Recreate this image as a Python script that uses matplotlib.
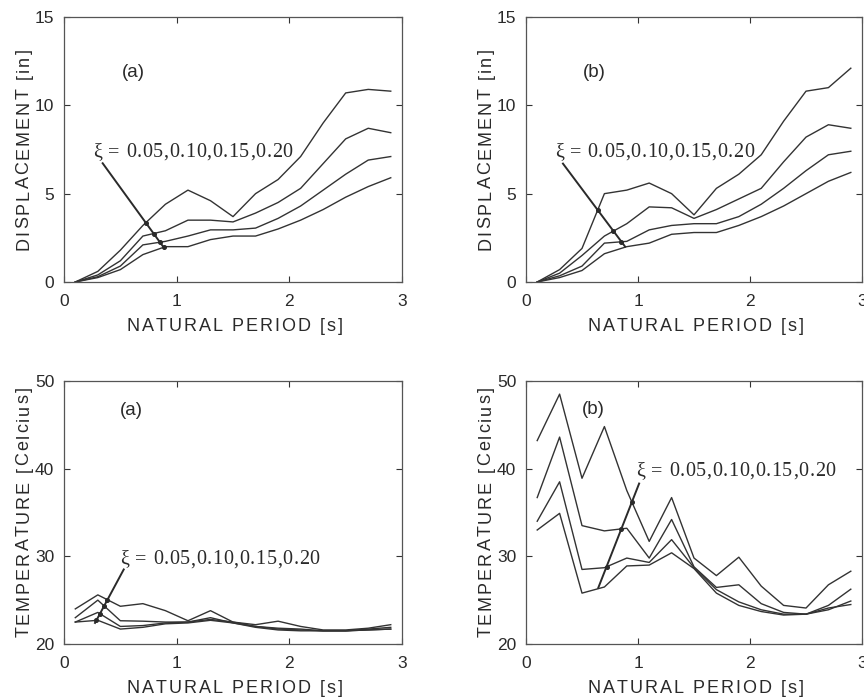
import matplotlib
matplotlib.use("Agg")
import matplotlib.pyplot as plt
from matplotlib.font_manager import FontProperties, findfont, get_font
from matplotlib.transforms import IdentityTransform
import numpy as np

# Natural period samples [s]
period = [0.1, 0.3, 0.5, 0.7, 0.9, 1.1, 1.3, 1.5, 1.7, 1.9, 2.1, 2.3, 2.5, 2.7, 2.9]
damping_text = "ξ = 0.05,0.10,0.15,0.20"

# Peak displacement [in], case (a), damping 0.05 / 0.10 / 0.15 / 0.20
disp_a_005 = [0.0, 0.6, 1.8, 3.2, 4.4, 5.2, 4.6, 3.7, 5.0, 5.8, 7.1, 9.0, 10.7, 10.9, 10.8]
disp_a_010 = [0.0, 0.4, 1.2, 2.6, 2.9, 3.5, 3.5, 3.4, 3.9, 4.5, 5.3, 6.7, 8.1, 8.7, 8.45]
disp_a_015 = [0.0, 0.3, 0.9, 2.1, 2.3, 2.6, 2.95, 2.95, 3.05, 3.6, 4.3, 5.2, 6.1, 6.9, 7.1]
disp_a_020 = [0.0, 0.25, 0.7, 1.55, 2.0, 2.0, 2.4, 2.6, 2.6, 3.0, 3.5, 4.1, 4.8, 5.4, 5.9]

# Peak displacement [in], case (b)
disp_b_005 = [0.0, 0.7, 1.9, 5.0, 5.2, 5.6, 5.0, 3.8, 5.3, 6.1, 7.2, 9.1, 10.8, 11.0, 12.1]
disp_b_010 = [0.0, 0.5, 1.5, 2.6, 3.3, 4.25, 4.2, 3.6, 4.1, 4.7, 5.3, 6.8, 8.2, 8.9, 8.7]
disp_b_015 = [0.0, 0.35, 0.9, 2.2, 2.3, 2.95, 3.2, 3.3, 3.3, 3.7, 4.4, 5.3, 6.3, 7.2, 7.4]
disp_b_020 = [0.0, 0.25, 0.65, 1.6, 2.0, 2.2, 2.7, 2.8, 2.8, 3.2, 3.7, 4.3, 5.0, 5.7, 6.2]

# Temperature [Celcius], case (a)
temp_a_005 = [24.0, 25.6, 24.3, 24.6, 23.8, 22.65, 23.8, 22.5, 22.2, 22.6, 22.0, 21.6, 21.6, 21.8, 22.2]
temp_a_010 = [23.0, 25.0, 22.65, 22.6, 22.5, 22.5, 23.0, 22.4, 22.0, 21.8, 21.7, 21.5, 21.5, 21.7, 21.9]
temp_a_015 = [22.5, 23.6, 22.0, 22.1, 22.4, 22.5, 22.8, 22.5, 22.0, 21.7, 21.6, 21.5, 21.5, 21.6, 21.7]
temp_a_020 = [22.5, 22.7, 21.7, 21.9, 22.3, 22.4, 22.7, 22.4, 21.9, 21.6, 21.5, 21.5, 21.5, 21.6, 21.7]

# Temperature [Celcius], case (b)
temp_b_005 = [43.2, 48.5, 38.9, 44.8, 37.5, 31.7, 36.7, 29.8, 27.8, 29.9, 26.6, 24.4, 24.1, 26.75, 28.3]
temp_b_010 = [36.7, 43.6, 33.5, 32.9, 33.2, 29.8, 34.2, 28.8, 26.45, 26.75, 24.6, 23.6, 23.4, 24.4, 26.25]
temp_b_015 = [34.0, 38.5, 28.5, 28.7, 29.8, 29.3, 31.9, 28.7, 26.2, 24.8, 23.9, 23.4, 23.4, 23.9, 24.9]
temp_b_020 = [33.0, 34.9, 25.8, 26.5, 28.9, 29.0, 30.4, 28.6, 25.8, 24.4, 23.7, 23.3, 23.4, 24.1, 24.5]

DPI = 100
INK = "#333333"
TXT = "#2a2a2a"
SANS = "Liberation Sans"
SERIF = "Liberation Serif"
plt.rcParams["font.family"] = SANS


def advances(s, family, size):
    """Horizontal advance of each character, in pixels."""
    font = get_font(findfont(FontProperties(family=family, size=size)))
    font.set_size(size, DPI)
    return [font.load_char(ord(c)).linearHoriAdvance / 65536 for c in s]


def tracked_text(fig, s, x, y, family, size, track, vertical=False, center=True):
    """Draw letter-spaced text; (x, y) is the baseline anchor in pixels."""
    adv = advances(s, family, size)
    total = sum(adv) + track * (len(s) - 1)
    pos = -total / 2 if center else 0.0
    for c, a in zip(s, adv):
        if c != " ":
            px, py = (x, y + pos) if vertical else (x + pos, y)
            fig.text(px, py, c, transform=IdentityTransform(), family=family,
                     fontsize=size, color=TXT, ha="left", va="baseline",
                     rotation=90 if vertical else 0, rotation_mode="anchor")
        pos += a + track


def segment_hits(x0, y0, x1, y1, xs, ys):
    """Crossings of a straight segment with a polyline."""
    hits = []
    for i in range(len(xs) - 1):
        ax_, ay_, bx_, by_ = xs[i], ys[i], xs[i + 1], ys[i + 1]
        d = (x1 - x0) * (by_ - ay_) - (y1 - y0) * (bx_ - ax_)
        if abs(d) < 1e-12:
            continue
        t = ((ax_ - x0) * (by_ - ay_) - (ay_ - y0) * (bx_ - ax_)) / d
        u = ((ax_ - x0) * (y1 - y0) - (ay_ - y0) * (x1 - x0)) / d
        if 0 <= t <= 1.0001 and 0 <= u <= 1:
            hits.append((x0 + t * (x1 - x0), y0 + t * (y1 - y0)))
    return hits


fig = plt.figure(figsize=(8.64, 6.98), dpi=DPI)
H = 6.98 * DPI

panels = [
    # rect, series, ylim, yticks, ylabel, tag, tag_xy, text_xy, leader (x0,y0,x1,y1)
    ([0.0741, 0.596, 0.3912, 0.3797], [disp_a_005, disp_a_010, disp_a_015, disp_a_020],
     (0, 15), [0, 5, 10, 15], "DISPLACEMENT [in]", "(a)", (0.51, 11.83),
     (0.257, 7.08), (0.343, 6.72, 0.89, 1.91)),
    ([0.6088, 0.596, 0.3889, 0.3797], [disp_b_005, disp_b_010, disp_b_015, disp_b_020],
     (0, 15), [0, 5, 10, 15], "DISPLACEMENT [in]", "(b)", (0.506, 11.83),
     (0.256, 7.08), (0.33, 6.7, 0.885, 2.0)),
    ([0.0741, 0.0774, 0.3912, 0.3768], [temp_a_005, temp_a_010, temp_a_015, temp_a_020],
     (20, 50), [20, 30, 40, 50], "TEMPERATURE [Celcius]", "(a)", (0.497, 46.6),
     (0.497, 29.1), (0.53, 28.5, 0.275, 22.4)),
    ([0.6088, 0.0774, 0.3889, 0.3768], [temp_b_005, temp_b_010, temp_b_015, temp_b_020],
     (20, 50), [20, 30, 40, 50], "TEMPERATURE [Celcius]", "(b)", (0.5, 46.7),
     (0.982, 39.2), (1.01, 38.3, 0.645, 26.4)),
]

LABEL_SIZE = 13
LABEL_TRACK = 2.0
cap_mid = 0.36 * LABEL_SIZE * DPI / 72

for rect, series, ylim, yticks, ylabel, tag, tag_xy, text_xy, leader in panels:
    ax = fig.add_axes(rect)
    for s in series:
        ax.plot(period, s, color=INK, lw=1.0)
    ax.set_xlim(0, 3)
    ax.set_ylim(*ylim)
    ax.set_xticks([0, 1, 2, 3])
    ax.set_yticks(yticks)
    ax.tick_params(direction="in", length=4, width=0.8, colors=INK,
                   top=True, right=True, labelsize=12.5, labelcolor=TXT)
    ax.tick_params(axis="x", pad=9)
    ax.tick_params(axis="y", pad=7)
    for sp in ax.spines.values():
        sp.set_color("#555555")
        sp.set_linewidth(0.9)

    # axis titles, letter-spaced, placed in pixels relative to the axes box
    l, b, w, h = rect
    cx = (l + w / 2) * 8.64 * DPI + 1.5
    cy = (b + h / 2) * H
    tracked_text(fig, "NATURAL PERIOD [s]", cx, b * H - 43 - cap_mid,
                 SANS, LABEL_SIZE, LABEL_TRACK)
    tracked_text(fig, ylabel, l * 8.64 * DPI - 42 + cap_mid, cy,
                 SANS, LABEL_SIZE, LABEL_TRACK, vertical=True)

    ax.text(tag_xy[0], tag_xy[1], tag, fontsize=13.5, color=TXT, ha="left", va="center")

    tx, ty = ax.transData.transform(text_xy)
    tracked_text(fig, damping_text, tx, ty, SERIF, 14.5, 0.6, center=False)

    x0, y0, x1, y1 = leader
    ax.plot([x0, x1], [y0, y1], color=TXT, lw=1.4)
    for s in series:
        for hx, hy in segment_hits(x0, y0, x1, y1, period, s):
            ax.plot([hx], [hy], "o", color=TXT, ms=2.6)

fig.savefig("out.png", dpi=DPI)
